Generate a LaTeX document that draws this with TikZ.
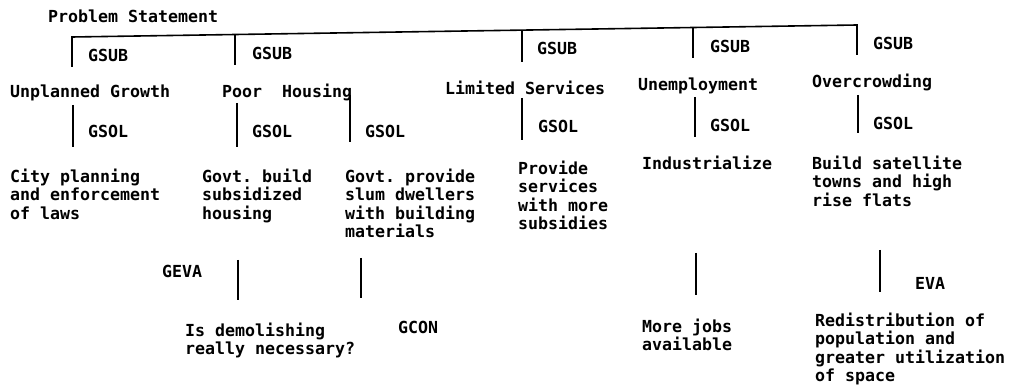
\documentclass[tikz,border=0pt]{standalone}
\usepackage{fontspec}
\setmonofont{DejaVu Sans Mono}[BoldFont={DejaVu Sans Mono Bold}]
\begin{document}
\begin{tikzpicture}[x=1pt,y=-1pt,
  lbl/.style={anchor=base west, inner sep=0pt, align=left, font=\ttfamily\bfseries\fontsize{16.6}{18.5}\selectfont},
  mlbl/.style={lbl, anchor=north west},
  conn/.style={line width=1.6pt}]
\useasboundingbox (0,0) rectangle (1015,390);
% texts
\node[lbl] (ps) at (48,23) {Problem Statement};
\node[lbl] (gsub1) at (88,62) {GSUB};
\node[lbl] (gsub2) at (252,60) {GSUB};
\node[lbl] (gsub3) at (537,55) {GSUB};
\node[lbl] (gsub4) at (710,53) {GSUB};
\node[lbl] (gsub5) at (873,50) {GSUB};
\node[lbl] (ug) at (10,98) {Unplanned Growth};
\node[lbl] (ph) at (222,98) {Poor\ \ Housing};
\node[lbl] (ls) at (445,95) {Limited Services};
\node[lbl] (un) at (638,91) {Unemployment};
\node[lbl] (oc) at (812,88) {Overcrowding};
\node[lbl] (gsol1) at (88,138) {GSOL};
\node[lbl] (gsol2) at (252,138) {GSOL};
\node[lbl] (gsol3) at (365,138) {GSOL};
\node[lbl] (gsol4) at (538,133) {GSOL};
\node[lbl] (gsol5) at (710,132) {GSOL};
\node[lbl] (gsol6) at (873,130) {GSOL};
\node[mlbl] (cp) at (10,168.4) {City planning\\and enforcement\\of laws};
\node[mlbl] (gb) at (202,168.4) {Govt. build\\subsidized\\housing};
\node[mlbl] (gp) at (345,168.4) {Govt. provide\\slum dwellers\\with building\\materials};
\node[mlbl] (pr) at (518,160.4) {Provide\\services\\with more\\subsidies};
\node[lbl] (ind) at (642,170) {Industrialize};
\node[mlbl] (bs) at (812,155.4) {Build satellite\\towns and high\\rise flats};
\node[lbl] (geva) at (162,277) {GEVA};
\node[lbl] (gcon) at (398,333) {GCON};
\node[lbl] (eva) at (915,290) {EVA};
\node[mlbl] (idm) at (185,322.4) {Is demolishing\\really necessary?};
\node[mlbl] (mj) at (642,318.4) {More jobs\\available};
\node[mlbl] (rd) at (815,312.4) {Redistribution of\\population and\\greater utilization\\of space};
% connector coordinates
\coordinate (tL) at (72,37);
\coordinate (tR) at (857,25);
\coordinate (bL) at (72,67);
\coordinate (bR) at (857,55);
\coordinate (t2) at (235,34.5);
\coordinate (b2) at (235,65);
\coordinate (t3) at (522,30.1);
\coordinate (b3) at (522,62);
\coordinate (t4) at (693,27.5);
\coordinate (b4) at (693,58);
\coordinate (s1a) at (73,105);  \coordinate (s1b) at (73,147);
\coordinate (s2a) at (237,103); \coordinate (s2b) at (237,147);
\coordinate (s3a) at (350,95);  \coordinate (s3b) at (350,142);
\coordinate (s4a) at (522,98);  \coordinate (s4b) at (522,140);
\coordinate (s5a) at (695,97);  \coordinate (s5b) at (695,137);
\coordinate (s6a) at (858,95);  \coordinate (s6b) at (858,133);
\coordinate (e1a) at (238,260); \coordinate (e1b) at (238,300);
\coordinate (e2a) at (361,258); \coordinate (e2b) at (361,298);
\coordinate (e3a) at (696,253); \coordinate (e3b) at (696,295);
\coordinate (e4a) at (880,250); \coordinate (e4b) at (880,292);
% connectors
\draw[conn] (bL) -- (tL) -- (tR) -- (bR);
\draw[conn] (t2) -- (b2);
\draw[conn] (t3) -- (b3);
\draw[conn] (t4) -- (b4);
\foreach \i in {1,...,6} {\draw[conn] (s\i a) -- (s\i b);}
\foreach \i in {1,...,4} {\draw[conn] (e\i a) -- (e\i b);}
\end{tikzpicture}
\end{document}
